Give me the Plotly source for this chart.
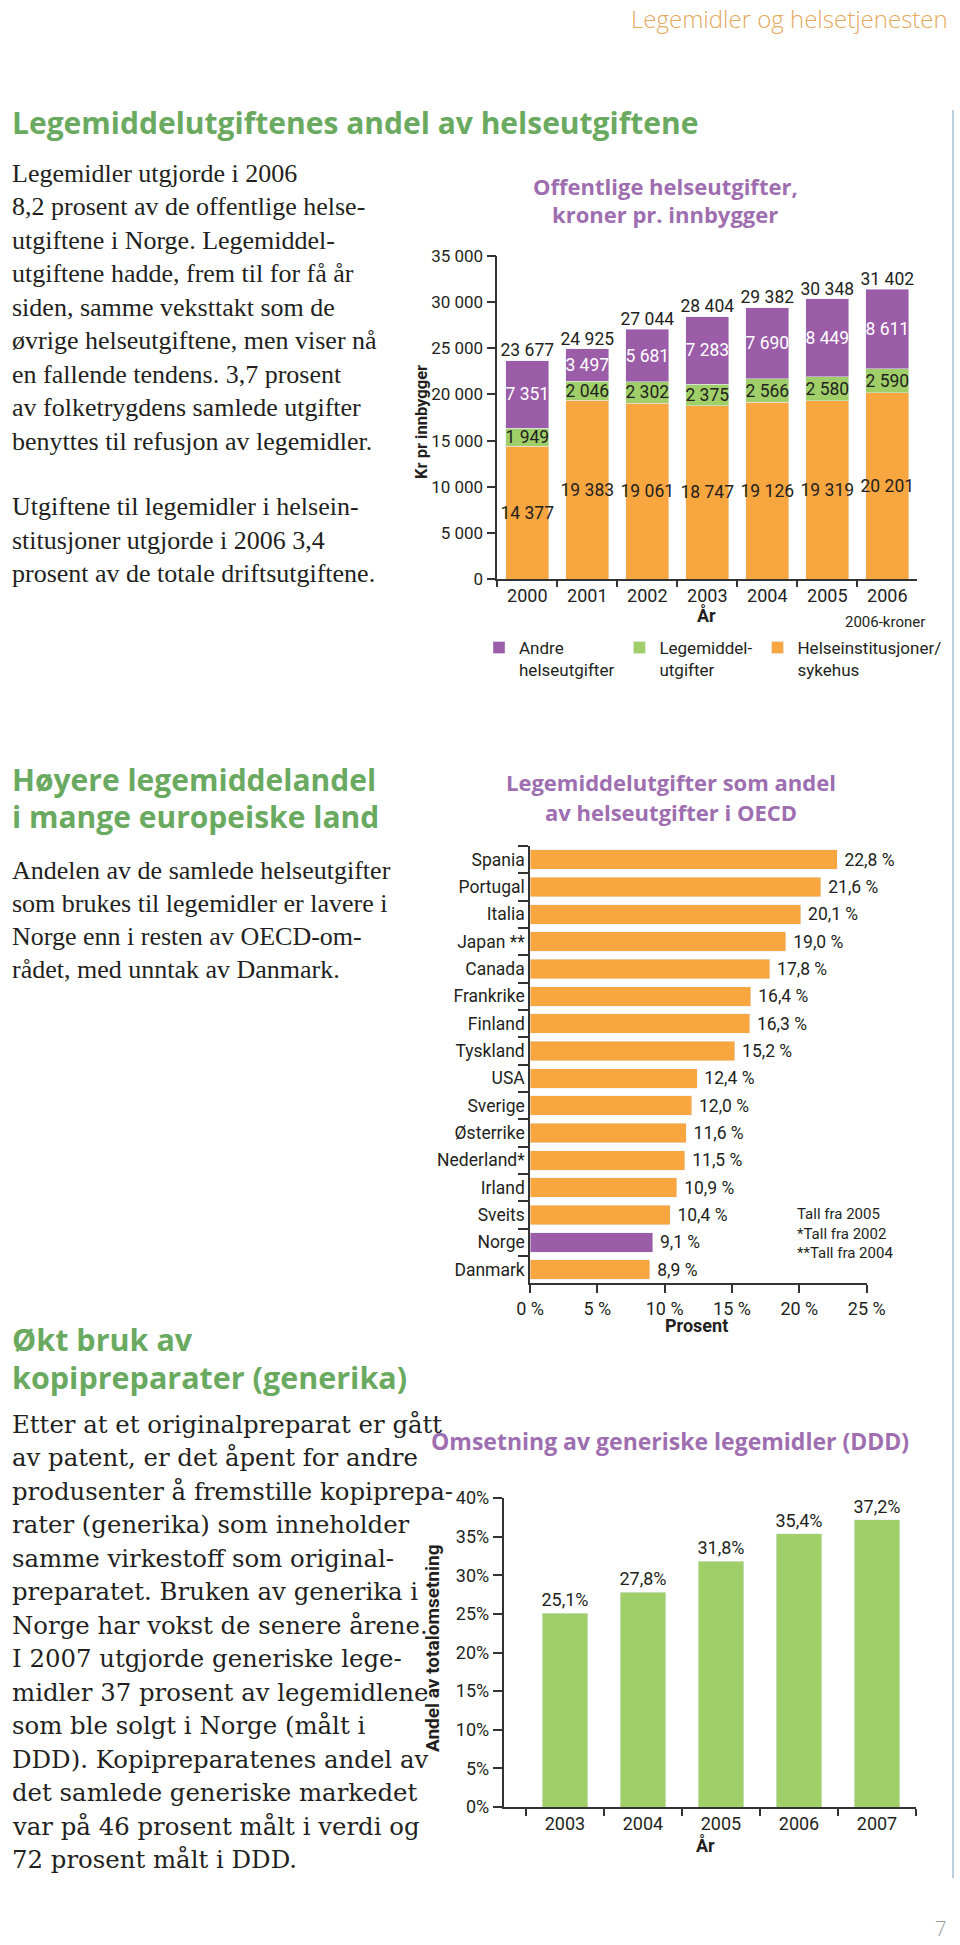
import plotly.graph_objects as go

W, H = 960, 1945


def px(x):
    return x / W


def py(y):
    return 1 - y / H


# ---------------- data ----------------
# Chart 1: Offentlige helseutgifter, kroner pr. innbygger
years1 = ["2000", "2001", "2002", "2003", "2004", "2005", "2006"]
sykehus = [14377, 19383, 19061, 18747, 19126, 19319, 20201]
legemiddel = [1949, 2046, 2302, 2375, 2566, 2580, 2590]
andre = [7351, 3497, 5681, 7283, 7690, 8449, 8611]
totals = [23677, 24925, 27044, 28404, 29382, 30348, 31402]
y1_ticks = [0, 5000, 10000, 15000, 20000, 25000, 30000, 35000]

# Chart 2: Legemiddelutgifter som andel av helseutgifter i OECD
countries = ["Spania", "Portugal", "Italia", "Japan **", "Canada", "Frankrike",
             "Finland", "Tyskland", "USA", "Sverige", "Østerrike", "Nederland*",
             "Irland", "Sveits", "Norge", "Danmark"]
shares = [22.8, 21.6, 20.1, 19.0, 17.8, 16.4, 16.3, 15.2, 12.4, 12.0, 11.6,
          11.5, 10.9, 10.4, 9.1, 8.9]
x2_ticks = [0, 5, 10, 15, 20, 25]

# Chart 3: Omsetning av generiske legemidler (DDD)
years3 = ["2003", "2004", "2005", "2006", "2007"]
generic = [25.1, 27.8, 31.8, 35.4, 37.2]
y3_ticks = [0, 5, 10, 15, 20, 25, 30, 35, 40]

# ---------------- style ----------------
ORANGE = "#f8a640"
GREEN = "#a0cf6a"
PURPLE = "#9b5ca8"
TITLE_PURPLE = "#9e6eb0"
HEAD_GREEN = "#6aaa60"
DARK = "#231f20"
AX = "#333333"
SANS = "Roboto, Liberation Sans, sans-serif"
SERIF = "Liberation Serif, Times New Roman, serif"
SERIF2 = "DejaVu Serif, serif"
HEAD = "Open Sans, DejaVu Sans, sans-serif"


def nb(v):
    return f"{v:,}".replace(",", " ")


def pct(v, sep=" "):
    return f"{v:.1f}".replace(".", ",") + sep + "%"


fig = go.Figure()

# ---- chart 1 ----
fig.add_trace(go.Bar(
    x=years1, y=sykehus, name="Helseinstitusjoner/<br>sykehus", marker_color=ORANGE,
    text=[nb(v) for v in sykehus], textposition="inside", insidetextanchor="middle",
    textangle=0, constraintext="none", textfont=dict(family=SANS, size=17.5, color=DARK),
    width=0.72, xaxis="x", yaxis="y", hoverinfo="skip"))
fig.add_trace(go.Bar(
    x=years1, y=legemiddel, name="Legemiddel-<br>utgifter", marker_color=GREEN,
    text=[nb(v) for v in legemiddel], textposition="inside", insidetextanchor="middle",
    textangle=0, constraintext="none", textfont=dict(family=SANS, size=17.5, color=DARK),
    width=0.72, xaxis="x", yaxis="y", hoverinfo="skip"))
fig.add_trace(go.Bar(
    x=years1, y=andre, name="Andre<br>helseutgifter", marker_color=PURPLE,
    text=[nb(v) for v in andre], textposition="inside", insidetextanchor="middle",
    textangle=0, constraintext="none", textfont=dict(family=SANS, size=17.5, color="white"),
    width=0.72, xaxis="x", yaxis="y", hoverinfo="skip"))
fig.add_trace(go.Scatter(
    x=years1, y=totals, mode="text", text=[nb(v) for v in totals],
    textposition="top center", textfont=dict(family=SANS, size=17.5, color=DARK),
    showlegend=False, cliponaxis=False, xaxis="x", yaxis="y", hoverinfo="skip"))

# ---- chart 2 ----
fig.add_trace(go.Bar(
    y=countries, x=shares, orientation="h",
    marker_color=[PURPLE if c == "Norge" else ORANGE for c in countries],
    text=["\u00a0" + pct(v) for v in shares], textposition="outside",
    constraintext="none", cliponaxis=False,
    textfont=dict(family=SANS, size=17.5, color=DARK),
    width=0.71, xaxis="x2", yaxis="y2", showlegend=False, hoverinfo="skip"))

# ---- chart 3 ----
fig.add_trace(go.Bar(
    x=years3, y=generic, marker_color=GREEN,
    text=[pct(v, "") for v in generic], textposition="outside",
    constraintext="none", cliponaxis=False,
    textfont=dict(family=SANS, size=18, color=DARK),
    width=0.58, xaxis="x3", yaxis="y3", showlegend=False, hoverinfo="skip"))

axis_common = dict(showline=True, linecolor=AX, linewidth=1.5, ticks="outside",
                   tickcolor=AX, tickwidth=1.5, showgrid=False, zeroline=False,
                   fixedrange=True, automargin=False)

fig.update_layout(
    width=W, height=H,
    margin=dict(l=0, r=0, t=0, b=0, pad=0, autoexpand=False),
    paper_bgcolor="white", plot_bgcolor="white",
    barmode="stack", showlegend=True,
    font=dict(family=SANS, color=DARK),
    xaxis=dict(domain=[px(497.3), px(917.3)], anchor="y", type="category",
               tickson="boundaries", ticklen=6,
               tickfont=dict(family=SANS, size=18, color=DARK), **axis_common),
    yaxis=dict(domain=[py(579), py(256)], anchor="x", range=[0, 35000],
               tickvals=y1_ticks, ticktext=[nb(v) for v in y1_ticks], ticklen=9,
               tickfont=dict(family=SANS, size=17, color=DARK), **axis_common),
    xaxis2=dict(domain=[px(530), px(866.7)], anchor="y2", range=[0, 25],
                tickvals=x2_ticks, ticktext=[f"{v} %" for v in x2_ticks], ticklen=8,
                tickfont=dict(family=SANS, size=18, color=DARK), **axis_common),
    yaxis2=dict(domain=[py(1283.3), py(846)], anchor="x2", type="category",
                range=[len(countries) - 0.5, -0.5], tickson="boundaries", ticklen=10,
                tickfont=dict(family=SANS, size=17.5, color=DARK), **axis_common),
    xaxis3=dict(domain=[px(503.6), px(916)], anchor="y3", type="category",
                range=[-0.787, len(years3) - 0.5], tickson="boundaries", ticklen=7,
                tickfont=dict(family=SANS, size=18, color=DARK), **axis_common),
    yaxis3=dict(domain=[py(1807), py(1498)], anchor="x3", range=[0, 40],
                tickvals=y3_ticks, ticktext=[f"{v}%" for v in y3_ticks], ticklen=9,
                tickfont=dict(family=SANS, size=18, color=DARK), **axis_common),
    legend=dict(orientation="h", x=px(479), xanchor="left", y=py(630), yanchor="top",
                traceorder="reversed", font=dict(family=SANS, size=17, color=DARK),
                itemwidth=30, valign="top",
                bgcolor="rgba(0,0,0,0)", itemclick=False, itemdoubleclick=False),
)

ann = []


def text(t, x, y, size, family=SANS, color=DARK, xanchor="left", angle=0, weight=None):
    f = dict(family=family, size=size, color=color)
    if weight is not None:
        f["weight"] = weight
    ann.append(dict(text=t, x=px(x), y=py(y), xref="paper", yref="paper",
                    xanchor=xanchor, yanchor="middle", showarrow=False,
                    textangle=angle, font=f))


# page header
text("Legemidler og helsetjenesten", 950, 18, 24, HEAD, "#e3a95c", "right", weight=300)
# page number
text("7", 948, 1928, 20, HEAD, "#9a9a9a", "right", weight=300)

# headings
text("Legemiddelutgiftenes andel av helseutgiftene", 10, 122, 30, HEAD, HEAD_GREEN, weight=700)
text("Høyere legemiddelandel", 10, 780, 30, HEAD, HEAD_GREEN, weight=700)
text("i mange europeiske land", 10, 816.7, 30, HEAD, HEAD_GREEN, weight=700)
text("Økt bruk av", 10, 1339, 30.5, HEAD, HEAD_GREEN, weight=700)
text("kopipreparater (generika)", 10, 1377, 30.5, HEAD, HEAD_GREEN, weight=700)

para1 = ["Legemidler utgjorde i 2006", "8,2 prosent av de offentlige helse-",
         "utgiftene i Norge. Legemiddel-", "utgiftene hadde, frem til for få år",
         "siden, samme veksttakt som de", "øvrige helseutgiftene, men viser nå",
         "en fallende tendens. 3,7 prosent", "av folketrygdens samlede utgifter",
         "benyttes til refusjon av legemidler."]
para2 = ["Utgiftene til legemidler i helsein-", "stitusjoner utgjorde i 2006 3,4",
         "prosent av de totale driftsutgiftene."]
para3 = ["Andelen av de samlede helseutgifter", "som brukes til legemidler er lavere i",
         "Norge enn i resten av OECD-om-", "rådet, med unntak av Danmark."]
para4 = ["Etter at et originalpreparat er gått", "av patent, er det åpent for andre",
         "produsenter å fremstille kopiprepa-", "rater (generika) som inneholder",
         "samme virkestoff som original-", "preparatet. Bruken av generika i",
         "Norge har vokst de senere årene.", "I 2007 utgjorde generiske lege-",
         "midler 37 prosent av legemidlene", "som ble solgt i Norge (målt i",
         "DDD). Kopipreparatenes andel av", "det samlede generiske markedet",
         "var på 46 prosent målt i verdi og", "72 prosent målt i DDD."]

for i, line in enumerate(para1):
    text(line, 10, 173.3 + i * 33.5, 26, SERIF)
for i, line in enumerate(para2):
    text(line, 10, 506.7 + i * 33.3, 26, SERIF)
for i, line in enumerate(para3):
    text(line, 10, 870 + i * 33.3, 26, SERIF)
for i, line in enumerate(para4):
    text(line, 10, 1424 + i * 33.5, 24.4, SERIF2)

# chart titles
text("<b>Offentlige helseutgifter,</b>", 665, 186, 22, HEAD, TITLE_PURPLE, "center")
text("<b>kroner pr. innbygger</b>", 665, 214, 22, HEAD, TITLE_PURPLE, "center")
text("<b>Legemiddelutgifter som andel</b>", 671, 782, 22, HEAD, TITLE_PURPLE, "center")
text("<b>av helseutgifter i OECD</b>", 671, 812, 22, HEAD, TITLE_PURPLE, "center")
text("<b>Omsetning av generiske legemidler (DDD)</b>", 670, 1441, 23, HEAD, TITLE_PURPLE, "center")

# axis titles and notes
text("<b>Kr pr innbygger</b>", 422, 422, 16.5, SANS, DARK, "center", angle=-90)
text("<b>År</b>", 706, 615, 18, SANS, DARK, "center")
text("2006-kroner", 843, 622, 15, SANS, DARK, "left")
text("<b>Prosent</b>", 696, 1325, 18, SANS, DARK, "center")
text("Tall fra 2005<br>*Tall fra 2002<br>**Tall fra 2004", 795, 1233, 15, SANS, DARK, "left")
ann[-1]["align"] = "left"
text("<b>Andel av totalomsetning</b>", 432, 1648, 19, SANS, DARK, "center", angle=-90)
text("<b>År</b>", 705, 1845, 18, SANS, DARK, "center")

fig.update_layout(annotations=ann)

fig.add_shape(type="line", xref="paper", yref="paper", x0=px(953), x1=px(953),
              y0=py(110), y1=py(1878), line=dict(color="#bcd0e0", width=2))

fig.write_html("out.html")
